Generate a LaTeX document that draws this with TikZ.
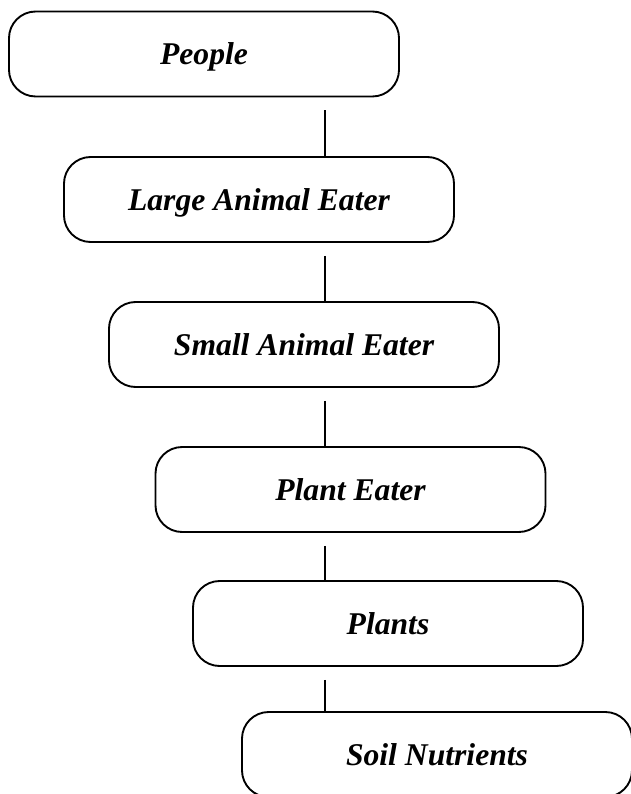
\documentclass[tikz,border=0pt]{standalone}
\usepackage{fontspec}
\setmainfont{Liberation Serif}
\tikzset{
  level/.style={draw, line width=1.6pt, rounded corners=0.8cm,
    minimum width=11.7cm, minimum height=2.55cm, text depth=0pt,
    font=\fontsize{27}{32}\selectfont\bfseries\itshape},
  link/.style={line width=1.4pt, shorten <=0.39cm}
}
\begin{document}
\begin{tikzpicture}[x=0.03cm, y=-0.03cm]
  \useasboundingbox (0,0) rectangle (630,794);
  \node[level] (people) at (204,54) {People};
  \node[level] (large) at (259,199.5) {Large Animal Eater};
  \node[level] (small) at (304,344.5) {Small Animal Eater};
  \node[level] (planteater) at (350.5,489.5) {Plant Eater};
  \node[level] (plants) at (388,623.5) {Plants};
  \node[level] (soil) at (437,754.5) {Soil Nutrients};
  \coordinate (spine) at (325,0);
  \foreach \a/\b in {people/large, large/small, small/planteater,
                     planteater/plants, plants/soil}
    \draw[link] (\a.south -| spine) -- (\b.north -| spine);
\end{tikzpicture}
\end{document}
